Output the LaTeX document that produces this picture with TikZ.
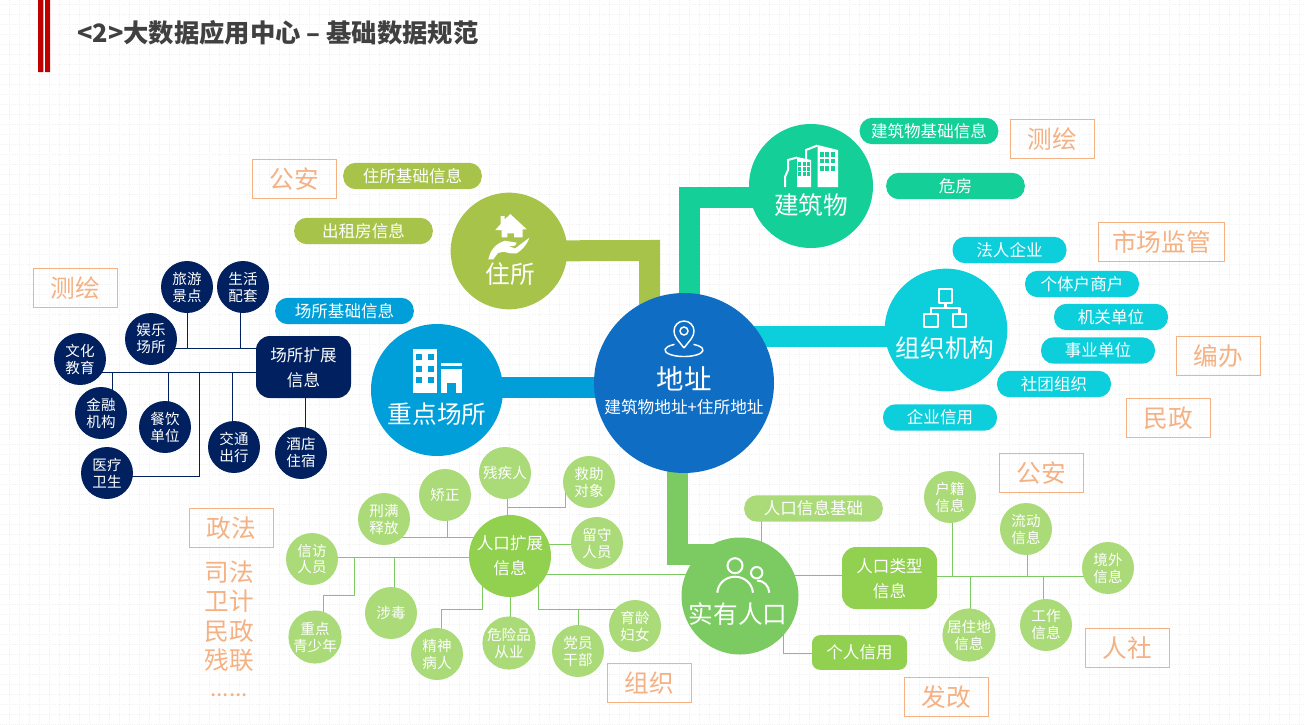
\documentclass[tikz,border=0pt]{standalone}
\usepackage{fontspec}
\setmainfont{Noto Sans CJK SC}
\usetikzlibrary{backgrounds}
\definecolor{navyc}{HTML}{002060}
\definecolor{mainc}{HTML}{0F6EC4}
\definecolor{buildc}{HTML}{14D098}
\definecolor{homec}{HTML}{A8C34A}
\definecolor{orgc}{HTML}{0DCFDC}
\definecolor{placec}{HTML}{009FD9}
\definecolor{peoplec}{HTML}{7CCB62}
\definecolor{limec}{HTML}{92D050}
\definecolor{softc}{HTML}{AADB78}
\definecolor{peachc}{HTML}{F4B183}
\definecolor{gridc}{HTML}{F2F2F2}
\tikzset{
	hub/.style={circle,inner sep=0pt},
	hubtext/.style={text=white,inner sep=0pt,font=\fontsize{18.5}{22}\selectfont},
	smalltext/.style={font=\fontsize{10.9}{12.75}\selectfont},
	darkdot/.style={circle,fill=navyc,minimum size=39pt,inner sep=0pt,text=white,align=center,smalltext},
	softdot/.style={circle,fill=softc,minimum size=39pt,inner sep=0pt,text=white,align=center,smalltext},
	tag/.style={rounded corners=9.5pt,minimum width=104pt,minimum height=19.8pt,inner sep=0pt,text=white,font=\fontsize{12.4}{15}\selectfont},
	shorttag/.style={tag,minimum width=85.5pt},
	infobox/.style={rounded corners=10.5pt,minimum width=71.25pt,minimum height=46.5pt,inner sep=0pt,text depth=0pt,text=white,align=center,font=\fontsize{12.4}{19}\selectfont},
	srcbox/.style={draw=peachc,line width=.75pt,minimum width=63pt,minimum height=29.25pt,inner sep=0pt,text=peachc,font=\fontsize{18.5}{22}\selectfont},
	srctext/.style={text=peachc,inner sep=0pt,font=\fontsize{18.5}{22}\selectfont},
	trunk/.style={line width=15.75pt},
	navyline/.style={draw=navyc,line width=.75pt},
	greenline/.style={draw=peoplec,line width=.75pt},
	iconline/.style={draw=white,line width=1.7pt,line join=round}
}
\begin{document}
\begin{tikzpicture}[x=0.75pt,y=-0.75pt,line join=miter]
	\useasboundingbox (0,0) rectangle (1304,725);
	\begin{pgfonlayer}{background}
		\fill[white] (0,0) rectangle (1304,725);
		\foreach \i in {0,...,130} \draw[gridc,densely dotted,line width=.6pt] (\i*10+9,0)--(\i*10+9,725);
		\foreach \j in {0,...,72} \draw[gridc,densely dotted,line width=.6pt] (0,\j*10+4)--(1304,\j*10+4);
	\end{pgfonlayer}
	% title
	\fill[red!75!black] (38,0) rectangle (43.3,72) (45,0) rectangle (50,72);
	\node (title) at (77,33) [anchor=west,inner sep=0pt,text=black!75,font=\fontsize{19}{22}\selectfont\bfseries]{<2>大数据应用中心 – 基础数据规范};
	% centre and hubs
	\node (addr) at (684,383) [hub,fill=mainc,minimum size=135pt]{};
	\node (build) at (811,186) [hub,fill=buildc,minimum size=93pt]{};
	\node (home) at (509,251) [hub,fill=homec,minimum size=87.5pt]{};
	\node (org) at (946,330) [hub,fill=orgc,minimum size=92pt]{};
	\node (place) at (437,390) [hub,fill=placec,minimum size=99pt]{};
	\node (people) at (740,596) [hub,fill=peoplec,minimum size=87.75pt]{};
	\node (addrtext) at (684,379) [hubtext,font=\fontsize{20.6}{24}\selectfont]{地址};
	\node (addrsub) at (684,407) [hubtext,font=\fontsize{12.5}{15}\selectfont]{建筑物地址+住所地址};
	\node (buildtext) at (811,205) [hubtext]{建筑物};
	\node (hometext) at (510,274) [hubtext]{住所};
	\node (orgtext) at (945,348) [hubtext]{组织机构};
	\node (placetext) at (437,414) [hubtext]{重点场所};
	\node (peopletext) at (738,614) [hubtext]{实有人口};
	% tags
	\node (tagbuilda) at (929,131) [tag,fill=buildc]{建筑物基础信息};
	\node (tagbuildb) at (955.5,186) [tag,fill=buildc]{危房};
	\node (taghomea) at (412.5,176) [tag,fill=homec]{住所基础信息};
	\node (taghomeb) at (363.5,231) [tag,fill=homec]{出租房信息};
	\node (tagplace) at (344.5,311) [tag,fill=placec]{场所基础信息};
	\node (tagorga) at (1009.5,250) [shorttag,fill=orgc]{法人企业};
	\node (tagorgb) at (1082,284) [shorttag,fill=orgc]{个体户商户};
	\node (tagorgc) at (1111,317) [shorttag,fill=orgc]{机关单位};
	\node (tagorgd) at (1098,350.5) [shorttag,fill=orgc]{事业单位};
	\node (tagorge) at (1054,384) [shorttag,fill=orgc]{社团组织};
	\node (tagorgf) at (940,417.5) [shorttag,fill=orgc]{企业信用};
	\node (tagpeople) at (813.5,508.5) [tag,fill=softc]{人口信息基础};
	% source boxes
	\node (srca) at (294.5,179) [srcbox]{公安};
	\node (srcb) at (1052.5,139) [srcbox]{测绘};
	\node (srcc) at (1161.5,242) [srcbox,minimum width=94.5pt]{市场监管};
	\node (srcd) at (1218.5,356) [srcbox]{编办};
	\node (srce) at (1168.5,418) [srcbox]{民政};
	\node (srcf) at (75.5,288) [srcbox]{测绘};
	\node (srcg) at (231.5,528) [srcbox]{政法};
	\node (srch) at (649.5,683) [srcbox]{组织};
	\node (srci) at (1041.5,473) [srcbox]{公安};
	\node (srcj) at (1127.5,648) [srcbox]{人社};
	\node (srck) at (946.5,697) [srcbox]{发改};
	\node (deptb) at (229,572) [srctext]{司法};
	\node (deptc) at (229,601) [srctext]{卫计};
	\node (deptd) at (229,631) [srctext]{民政};
	\node (depte) at (229,660) [srctext]{残联};
	\node (deptf) at (229,695) [srctext,font=\fontsize{17}{20}\selectfont]{......};
	% place details
	\node (placeinfo) at (303.5,367) [infobox,fill=navyc]{场所扩展\\信息};
	\node (lvyou) at (187,287) [darkdot]{旅游\\景点};
	\node (shenghuo) at (243,287) [darkdot]{生活\\配套};
	\node (yule) at (151,339) [darkdot]{娱乐\\场所};
	\node (wenhua) at (80,359) [darkdot]{文化\\教育};
	\node (jinrong) at (101,413) [darkdot]{金融\\机构};
	\node (canyin) at (165,427) [darkdot]{餐饮\\单位};
	\node (yiliao) at (107,473) [darkdot]{医疗\\卫生};
	\node (jiaotong) at (234,447) [darkdot]{交通\\出行};
	\node (jiudian) at (301,453) [darkdot]{酒店\\住宿};
	% population details
	\node (popinfo) at (510,556) [hub,fill=limec,minimum size=61.5pt,text=white,align=center,font=\fontsize{12.4}{18.75}\selectfont]{人口扩展\\信息};
	\node (canji) at (505,473) [softdot]{残疾人};
	\node (jiuzhu) at (589,482) [softdot]{救助\\对象};
	\node (jiaozheng) at (445,495) [softdot]{矫正};
	\node (xingman) at (384,519) [softdot]{刑满\\释放};
	\node (liushou) at (597,543) [softdot]{留守\\人员};
	\node (xinfang) at (312,559) [softdot]{信访\\人员};
	\node (shedu) at (391,613) [softdot]{涉毒};
	\node (qingshao) at (315,637) [softdot]{重点\\青少年};
	\node (jingshen) at (437,654) [softdot]{精神\\病人};
	\node (weixian) at (509,643) [softdot]{危险品\\从业};
	\node (dangyuan) at (578,651) [softdot]{党员\\干部};
	\node (yuling) at (635,626) [softdot]{育龄\\妇女};
	\node (typeinfo) at (889.5,578) [infobox,fill=limec]{人口类型\\信息};
	\node (credit) at (859.5,652.5) [shorttag,fill=limec,minimum width=71.25pt,minimum height=26pt,rounded corners=6pt]{个人信用};
	\node (huji) at (950,497) [softdot]{户籍\\信息};
	\node (liudong) at (1026,529) [softdot]{流动\\信息};
	\node (jingwai) at (1108,568) [softdot]{境外\\信息};
	\node (gongzuo) at (1046,625) [softdot]{工作\\信息};
	\node (juzhu) at (969,635) [softdot]{居住地\\信息};
	% connectors
	\begin{pgfonlayer}{background}
		\coordinate (bendhome) at (649.5,250.5);
		\coordinate (bendbuild) at (689.5,197.5);
		\coordinate (bendpeople) at (677.5,554.5);
		\coordinate (linkorg) at (684,336.5);
		\coordinate (linkplace) at (437,387.5);
		\draw[trunk,homec] (home.center) -- (bendhome) -- (bendhome |- addr.center);
		\draw[trunk,buildc] (build.center |- bendbuild) -- (bendbuild) -- (bendbuild |- addr.center);
		\draw[trunk,orgc] (linkorg) -- (linkorg -| org.center);
		\draw[trunk,placec] (linkplace) -- (linkplace -| addr.center);
		\draw[trunk,peoplec] (bendpeople |- addr.center) -- (bendpeople) -- (bendpeople -| people.center);
		% navy bus lines
		\coordinate (busa) at (151,348);
		\coordinate (busb) at (80,372);
		\coordinate (topa) at (240,348);
		\coordinate (topb) at (112,372);
		\coordinate (topc) at (168,372);
		\coordinate (topd) at (199,372);
		\coordinate (tope) at (232,372);
		\coordinate (topf) at (305,367);
		\coordinate (bendyi) at (199,476);
		\draw[navyline] (yule.center |- busa) -- (busa -| placeinfo.center);
		\draw[navyline] (busb) -- (busb -| placeinfo.center);
		\draw[navyline] (lvyou.center) -- (lvyou.center |- busa);
		\draw[navyline] (topa |- shenghuo.center) -- (topa);
		\draw[navyline] (topb) -- (topb |- jinrong.center);
		\draw[navyline] (topc) -- (topc |- canyin.center);
		\draw[navyline] (topd) -- (bendyi) -- (bendyi -| yiliao.center);
		\draw[navyline] (tope) -- (tope |- jiaotong.center);
		\draw[navyline] (topf) -- (topf |- jiudian.center);
		% green lines, left side
		\coordinate (stemcan) at (507,507);
		\coordinate (bendjiu) at (565,507);
		\coordinate (bendjiub) at (565,491);
		\coordinate (stemjiao) at (447,537);
		\coordinate (linkliu) at (510,544);
		\coordinate (linkxin) at (312,557);
		\coordinate (stemqing) at (354,557);
		\coordinate (bendqing) at (354,595);
		\coordinate (bendqingb) at (323,595);
		\coordinate (stemshe) at (394,557);
		\coordinate (startjing) at (482,570);
		\coordinate (bendjing) at (482,609);
		\coordinate (bendjingb) at (441,609);
		\coordinate (startdang) at (538,570);
		\coordinate (benddang) at (538,609);
		\coordinate (stemdang) at (578,609);
		\coordinate (bendyu) at (617,609);
		\coordinate (linkpop) at (510,574);
		\draw[greenline] (stemcan |- canji.center) -- (stemcan |- popinfo.center);
		\draw[greenline] (stemcan) -- (bendjiu) -- (bendjiub);
		\draw[greenline] (stemjiao |- jiaozheng.center) -- (stemjiao);
		\draw[greenline] (stemjiao -| xingman.center) -- (stemjiao -| popinfo.center);
		\draw[greenline] (linkliu) -- (linkliu -| liushou.center);
		\draw[greenline] (linkxin) -- (linkxin -| popinfo.center);
		\draw[greenline] (stemqing) -- (bendqing) -- (bendqingb) -- (bendqingb |- qingshao.center);
		\draw[greenline] (stemshe) -- (stemshe |- shedu.center);
		\draw[greenline] (startjing) -- (bendjing) -- (bendjingb) -- (bendjingb |- jingshen.center);
		\draw[greenline] (popinfo.center) -- (popinfo.center |- weixian.center);
		\draw[greenline] (startdang) -- (benddang) -- (bendyu) -- (bendyu |- yuling.center);
		\draw[greenline] (stemdang) -- (stemdang |- dangyuan.center);
		\draw[greenline] (linkpop) -- (linkpop -| people.center);
		% green lines, right side
		\coordinate (stemtag) at (761,540);
		\coordinate (linktype) at (740,575);
		\coordinate (bendcredit) at (783,653);
		\coordinate (linkout) at (889,576);
		\coordinate (stemhu) at (952,576);
		\coordinate (stemliu) at (1027,576);
		\coordinate (stemju) at (970,576);
		\coordinate (stemgong) at (1043,576);
		\draw[greenline] (stemtag |- tagpeople.center) -- (stemtag |- people.center);
		\draw[greenline] (linktype) -- (linktype -| typeinfo.center);
		\draw[greenline] (bendcredit |- people.center) -- (bendcredit) -- (bendcredit -| credit.center);
		\draw[greenline] (linkout) -- (linkout -| jingwai.center);
		\draw[greenline] (stemhu |- huji.center) -- (stemhu);
		\draw[greenline] (stemliu |- liudong.center) -- (stemliu);
		\draw[greenline] (stemju) -- (stemju |- juzhu.center);
		\draw[greenline] (stemgong) -- (stemgong |- gongzuo.center);
	\end{pgfonlayer}
	% pin icon
	\draw[white,line width=1.1pt,line join=round] (684,348) ..controls (678,340) and (674,337) .. (674,331) arc[start angle=180,end angle=360,radius=10] ..controls (694,337) and (690,340) .. (684,348);
	\draw[white,line width=1.1pt] (684,331) circle[radius=4];
	\draw[white,line width=1.1pt] (693.5,344.4) arc[x radius=19,y radius=6.5,start angle=300,end angle=600];
	% building icon
	\fill[white] (817.5,145) -- (838,150) -- (838,187) -- (817.5,187) -- cycle;
	\draw[white,line width=1.5pt] (817.5,145.5) -- (806,150) -- (806,159);
	\foreach \wx in {821.5,827,832.5} \foreach \wy in {154.3,161,168.3} \fill[buildc] (\wx-2,\wy-2.4) rectangle (\wx+2,\wy+2.4);
	\fill[white] (797,157) -- (811,160) -- (811,187) -- (797,187) -- cycle;
	\draw[white,line width=1.5pt] (797,157.5) -- (788,160) -- (788,170) -- (785,177) -- (785,187);
	\foreach \wx in {799.5,804,808.5} \foreach \wy in {164,169,174} \fill[buildc] (\wx-1.5,\wy-1.7) rectangle (\wx+1.5,\wy+1.7);
	% house icon
	\fill[white] (510.3,214) -- (526.7,229.3) -- (522.7,229.3) -- (522.7,237.3) -- (514,237.3) -- (514,233.3) -- (507.3,233.3) -- (507.3,237.3) -- (501.7,237.3) -- (501.7,230) -- (495.3,230) -- (500.7,224) -- (500.7,216) -- (504.7,216) -- (504.7,219.5) -- cycle;
	\fill[white] (488.3,259.3) ..controls (490,252) and (494,244) .. (505,240.7) -- (516.7,242.7) -- (515,245.7) -- (509,246) -- (515,248.5) -- (529.3,237.7) ..controls (527,245) and (522,250) .. (516.7,253.3) ..controls (511,254) and (507,252.5) .. (503.3,251.7) -- (498,253) -- (493.3,259.3) -- cycle;
	% org icon
	\draw[iconline] (939,289) rectangle (952,303);
	\draw[iconline] (924,314) rectangle (938,327);
	\draw[iconline] (953,314) rectangle (966,327);
	\draw[iconline] (945.5,303) -- (945.5,308) -- (931,308) -- (931,314);
	\draw[iconline] (945.5,308) -- (959.5,308) -- (959.5,314);
	% place icon
	\fill[white] (413.3,349.3) rectangle (437.3,392.7);
	\foreach \wx in {419.3,430.7} \foreach \wy in {357.3,368.7,380} \fill[placec] (\wx-3,\wy-3) rectangle (\wx+3,\wy+3);
	\fill[white] (441.3,362.7) rectangle (462,366);
	\fill[white] (441.3,369.3) rectangle (462,392.7);
	\fill[placec] (446.7,383.3) rectangle (456,392.7);
	% people icon
	\draw[white,line width=1.5pt] (735,565.7) circle[radius=7.5];
	\draw[white,line width=1.5pt] (756.7,572.7) circle[radius=5.7];
	\draw[white,line width=1.5pt] (717.3,592.7) ..controls (718,583) and (726,576.7) .. (735,576.7) ..controls (744,576.7) and (752,583) .. (753,592.7);
	\draw[white,line width=1.5pt] (757,580.5) ..controls (764,580.5) and (769,586) .. (769.3,592.7);
\end{tikzpicture}
\end{document}
